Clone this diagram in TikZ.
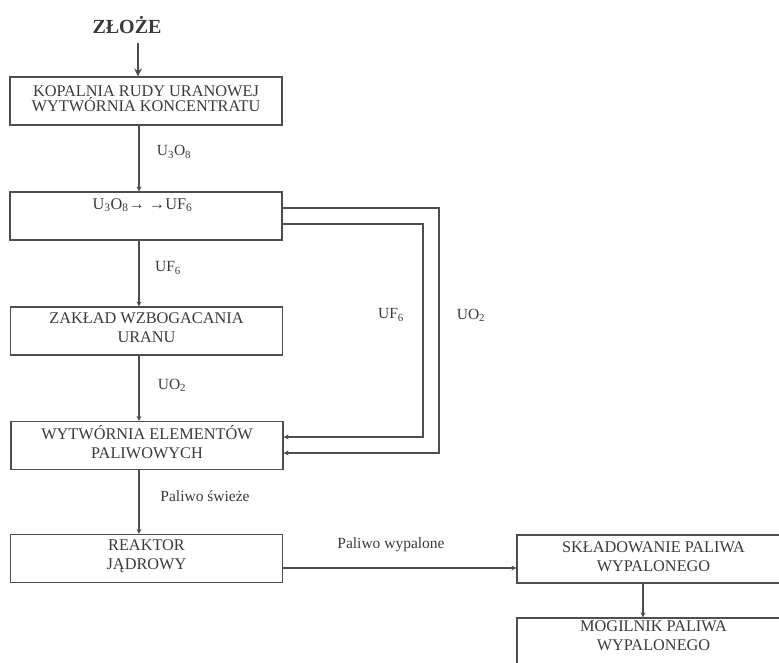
\documentclass[tikz,border=0pt]{standalone}
\usepackage{fontspec}
\setmainfont{Liberation Serif}
\usetikzlibrary{arrows.meta}
\definecolor{ink}{HTML}{3A3A3A}
\definecolor{ln}{HTML}{4E4E4E}
\begin{document}
\begin{tikzpicture}[x=1pt,y=-1pt,
  box/.style={draw=ln, line width=1.1pt, minimum width=272pt, minimum height=48pt,
    inner sep=0pt, align=center, text=ink, font=\fontsize{16.3}{19}\selectfont},
  lbl/.style={text=ink, inner sep=0pt, font=\fontsize{15.5}{16}\selectfont},
  conn/.style={draw=ln, line width=1.1pt},
  tipsmall/.style={-{Stealth[length=5pt,width=5pt]}},
  tipbig/.style={-{Stealth[length=8pt,width=8pt]}}
]
\useasboundingbox (0,0) rectangle (779,663);
% source
\node[text=ink, inner sep=0pt, font=\fontsize{20}{20}\selectfont\bfseries] (src) at (127,25) {ZŁOŻE};
\coordinate (srcend) at (138,43);
% boxes
\node[box, font=\fontsize{16.3}{15}\selectfont] (b1) at (146,101) {KOPALNIA RUDY URANOWEJ\\WYTWÓRNIA KONCENTRATU\rule[-5pt]{0pt}{5pt}};
\node[box] (b2) at (146,216) {};
\node[lbl, font=\fontsize{16.3}{16}\selectfont] (b2t) at (142.5,205) {U\textsubscript{3}O\textsubscript{8}→ →UF\textsubscript{6}};
\node[box] (b3) at (146.5,331) {ZAKŁAD WZBOGACANIA\\URANU\rule[-7pt]{0pt}{7pt}};
\node[box] (b4) at (147,445.5) {WYTWÓRNIA ELEMENTÓW\\PALIWOWYCH\rule[-7pt]{0pt}{7pt}};
\node[box] (b5) at (146.5,558.5) {REAKTOR\\JĄDROWY\rule[-7pt]{0pt}{7pt}};
\node[box, minimum width=273pt] (b6) at (653.5,559) {SKŁADOWANIE PALIWA\\WYPALONEGO\rule[-4pt]{0pt}{4pt}};
\node[box, minimum width=273pt] (b7) at (653.5,642) {MOGILNIK PALIWA\\WYPALONEGO\rule[-12pt]{0pt}{12pt}};
% vertical flow
\draw[conn, tipbig] (srcend) -- (b1.north -| srcend);
\draw[conn, tipsmall] (b1.south -| 139,0) -- (b2.north -| 139,0);
\draw[conn, tipsmall] (b2.south -| 139,0) -- (b3.north -| 139,0);
\draw[conn, tipsmall] (b3.south -| 139,0) -- (b4.north -| 139,0);
\draw[conn, tipsmall] (b4.south -| 139,0) -- (b5.north -| 139,0);
\draw[conn, tipsmall] (b5.east |- 0,568) -- (b6.west |- 0,568);
\draw[conn, tipsmall] (b6.south -| 643,0) -- (b7.north -| 643,0);
% feedback loops
\draw[conn, tipsmall] (b2.east |- 0,208) -- (439,208) -- (439,453) -- (b4.east |- 0,453);
\draw[conn, tipsmall] (b2.east |- 0,224) -- (423,224) -- (423,437) -- (b4.east |- 0,437);
% labels
\node[lbl] (l1) at (174,152) {U\textsubscript{3}O\textsubscript{8}};
\node[lbl] (l2) at (168,268) {UF\textsubscript{6}};
\node[lbl] (l3) at (172,385) {UO\textsubscript{2}};
\node[lbl] (l4) at (205,496) {Paliwo świeże};
\node[lbl] (l5) at (391,315) {UF\textsubscript{6}};
\node[lbl] (l6) at (471,315) {UO\textsubscript{2}};
\node[lbl] (l7) at (391,545) {Paliwo wypalone};
\end{tikzpicture}
\end{document}
